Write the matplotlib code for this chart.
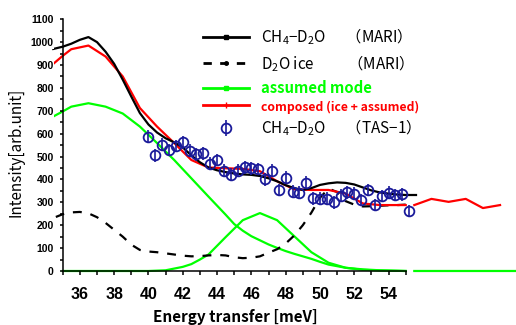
import matplotlib.pyplot as plt
from matplotlib.lines import Line2D
from matplotlib.ticker import FixedLocator

plt.rcParams['font.family'] = ['Noto Sans CJK JP', 'DejaVu Sans']
plt.rcParams['mathtext.fontset'] = 'custom'
plt.rcParams['mathtext.rm'] = 'Noto Sans CJK JP'
plt.rcParams['mathtext.it'] = 'Noto Sans CJK JP'
plt.rcParams['mathtext.bf'] = 'Noto Sans CJK JP:bold'

# CH4-D2O measured on MARI (black solid)
mari_e = [34.45, 35.0, 35.5, 36.0, 36.5, 37.0, 37.5, 38.0, 38.5, 39.0, 39.5,
          40.0, 40.5, 41.0, 41.5, 42.0, 42.5, 43.0, 43.5, 44.0, 44.5, 45.0, 45.5,
          46.0, 46.5, 47.0, 47.5, 48.0, 48.5, 49.0, 49.5, 50.0, 50.5, 51.0, 51.5,
          52.0, 52.5, 53.0, 53.5, 54.0, 54.5, 55.0, 55.6]
mari_i = [970, 980, 993, 1010, 1022, 1000, 958, 905, 836, 762, 690,
          640, 605, 580, 562, 540, 505, 475, 452, 440, 432, 426, 422,
          420, 415, 405, 392, 375, 362, 354, 362, 376, 383, 387, 385,
          378, 365, 352, 343, 338, 334, 332, 332]

# D2O ice on MARI (black dashed)
ice_e = [34.6, 35.0, 35.5, 36.0, 36.5, 37.0, 37.5, 38.0, 38.5, 39.0, 39.5,
         40.0, 40.5, 41.0, 41.5, 42.0, 42.5, 43.0, 43.5, 44.0, 44.5, 45.0, 45.5,
         46.0, 46.5, 47.0, 47.5, 48.0, 48.5, 49.0, 49.5, 50.0, 50.5, 51.0, 51.5,
         52.0, 52.5, 53.0, 53.5, 54.0, 54.5, 55.0]
ice_i = [236, 248, 256, 258, 252, 235, 210, 180, 150, 115, 92,
         85, 82, 77, 72, 67, 64, 65, 68, 70, 68, 60, 56,
         58, 64, 80, 95, 120, 155, 200, 255, 320, 360, 345, 305,
         290, 282, 283, 285, 287, 288, 290]

# broad assumed component (green)
broad_e = [34.45, 35.0, 35.5, 36.5, 37.5, 38.5, 39.5, 40.5, 41.5, 42.5, 43.5, 44.5,
           45.0, 45.5, 46.0, 46.5, 47.0, 47.5, 48.0, 48.5, 49.0, 49.5, 50.0, 50.5,
           51.5, 52.5, 53.5, 54.5, 55.0, 55.2, 55.5, 58.0, 61.5]
broad_i = [675, 697, 718, 733, 718, 688, 631, 559, 485, 405, 325, 246,
           205, 176, 152, 134, 116, 101, 87, 75, 64, 53, 40, 28,
           14, 7, 3, 1, 0, None, 0, 0, 0]

# assumed mode (green peak)
mode_e = [35.0, 40.0, 41.0, 42.0, 42.5, 43.0, 43.5, 44.5, 45.5, 46.5, 47.5, 48.5,
          49.5, 50.5, 51.5, 52.5, 53.5, 55.0]
mode_i = [0, 0, 3, 18, 30, 50, 72, 148, 222, 253, 222, 152,
          82, 36, 14, 5, 2, 0]

# composed (ice + assumed), red
comp_e = [34.45, 35.0, 35.5, 36.5, 37.5, 38.5, 39.5, 40.5, 41.5, 42.5, 43.5, 44.5,
          45.5, 46.5, 47.5, 48.5, 49.5, 50.5, 51.5, 52.5, 53.5, 54.5, 55.0,
          55.2, 55.5, 56.5, 57.5, 58.5, 59.5, 60.5]
comp_i = [905, 940, 969, 985, 937, 850, 712, 631, 559, 485, 452, 449,
          446, 436, 392, 357, 354, 354, 338, 295, 288, 288, 288,
          None, 288, 315, 302, 315, 275, 288]

# CH4-D2O measured on TAS-1 (circles)
tas_e = [40.0, 40.4, 40.8, 41.2, 41.6, 42.0, 42.4, 42.8, 43.2, 43.6, 44.0, 44.4, 44.8,
         45.2, 45.6, 46.0, 46.4, 46.8, 47.2, 47.6, 48.0, 48.4, 48.8, 49.2, 49.6,
         50.0, 50.4, 50.8, 51.2, 51.6, 52.0, 52.4, 52.8, 53.2, 53.6, 54.0, 54.4,
         54.8, 55.2]
tas_i = [587, 505, 551, 529, 546, 562, 526, 510, 514, 468, 485, 438, 420,
         438, 453, 449, 446, 400, 438, 354, 408, 347, 342, 386, 318,
         315, 315, 300, 329, 344, 337, 310, 354, 288, 328, 342, 332,
         335, 262]
tas_err = [28] * len(tas_e)

green = '#00ff00'
navy = '#1a1a9a'

fig = plt.figure(figsize=(5.16, 3.25), dpi=100)
ax = fig.add_axes([0, 0, 1, 1])

ax.plot(broad_e, broad_i, color=green, lw=1.6)
ax.plot(mode_e, mode_i, color=green, lw=1.6)
ax.plot(ice_e, ice_i, color='black', lw=1.6, ls=(0, (4, 4)))
ax.plot(comp_e, comp_i, color='red', lw=1.6)
ax.plot(mari_e, mari_i, color='black', lw=1.6)
eb = ax.errorbar(tas_e, tas_i, yerr=tas_err, fmt='o', ms=7, mfc='none',
                 mec=navy, mew=1.3, ecolor=navy, elinewidth=1.2, capsize=0)

ax.set_xlim(31.344, 61.43)
ax.set_ylim(-236, 1184)
for s in ['top', 'right']:
    ax.spines[s].set_visible(False)
ax.spines['left'].set_position(('data', 35))
ax.spines['bottom'].set_position(('data', 0))
ax.spines['left'].set_bounds(0, 1100)
ax.spines['bottom'].set_bounds(35, 55)
ax.spines['left'].set_linewidth(1.1)
ax.spines['bottom'].set_linewidth(1.1)

ax.xaxis.set_major_locator(FixedLocator(range(36, 55, 2)))
ax.xaxis.set_minor_locator(FixedLocator(range(35, 56, 2)))
ax.yaxis.set_major_locator(FixedLocator(range(0, 1101, 100)))
ax.yaxis.set_minor_locator(FixedLocator(range(50, 1100, 100)))
ax.tick_params(axis='x', which='both', direction='out', length=3, width=1.1, pad=8.5)
ax.tick_params(axis='y', which='both', direction='out', length=2, width=1.1, pad=4.5)
ax.set_axisbelow(False)
for lab in ax.get_xticklabels():
    lab.set_fontfamily('Liberation Sans')
    lab.set_fontweight('bold')
    lab.set_fontsize(11.5)
for lab in ax.get_yticklabels():
    lab.set_fontfamily('Liberation Sans')
    lab.set_fontweight('bold')
    lab.set_fontsize(7.5)
    lab.set_bbox(dict(facecolor='white', edgecolor='none', pad=0.5))

fig.text(235 / 516, 1 - 317 / 325, 'Energy transfer [meV]', ha='center', va='center',
         fontsize=11, fontweight='bold')
fig.text(16 / 516, 1 - 152 / 325, 'Intensity[arb.unit]', ha='center', va='center',
         rotation=90, fontsize=11)

h1 = [Line2D([], [], color='black', lw=2, marker='s', ms=3),
      Line2D([], [], color='black', lw=2, ls=(0, (3, 3)), marker='o', ms=2.5)]
l1 = ['CH$_4$−D$_2$O      （MARI）', 'D$_2$O ice          （MARI）']
leg1 = ax.legend(h1, l1, loc='upper left', bbox_to_anchor=(203 / 516, 1 - 26 / 325),
                 bbox_transform=fig.transFigure, frameon=False, fontsize=11,
                 handlelength=3.0, handletextpad=0.8, borderpad=0, borderaxespad=0,
                 labelspacing=0.4)
ax.add_artist(leg1)

h2 = [Line2D([], [], color=green, lw=2, marker='s', ms=3),
      Line2D([], [], color='red', lw=2, marker='+', ms=4),
      eb]
l2 = ['assumed mode', 'composed (ice + assumed)', 'CH$_4$−D$_2$O      （TAS−1）']
leg2 = ax.legend(h2, l2, loc='upper left', bbox_to_anchor=(203 / 516, 1 - 80 / 325),
                 bbox_transform=fig.transFigure, frameon=False, fontsize=11,
                 handlelength=3.0, handletextpad=0.8, borderpad=0, borderaxespad=0,
                 labelspacing=0.25)
texts = leg2.get_texts()
texts[0].set_color(green)
texts[0].set_fontweight('bold')
texts[0].set_fontsize(10.7)
texts[1].set_color('red')
texts[1].set_fontweight('bold')
texts[1].set_fontsize(8.8)

fig.savefig('out.png', dpi=100)
